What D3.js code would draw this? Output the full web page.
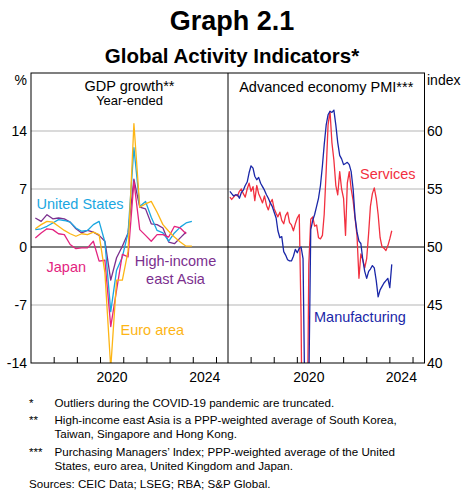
<!DOCTYPE html>
<html><head><meta charset="utf-8">
<script src="https://cdn.jsdelivr.net/npm/d3@7"></script>
<style>
body{margin:0;background:#fff}
text{font-family:Arial,"Liberation Sans",sans-serif;fill:#000}
</style>
</head><body>
<svg id="c" width="464" height="491"></svg>
<script>
// ---------- DATA ----------
const quarters = ["2017-Q1","2017-Q2","2017-Q3","2017-Q4","2018-Q1","2018-Q2","2018-Q3","2018-Q4",
  "2019-Q1","2019-Q2","2019-Q3","2019-Q4","2020-Q1","2020-Q2","2020-Q3","2020-Q4",
  "2021-Q1","2021-Q2","2021-Q3","2021-Q4","2022-Q1","2022-Q2","2022-Q3","2022-Q4",
  "2023-Q1","2023-Q2","2023-Q3","2023-Q4"];
const gdpUS    = [2.1,2.2,2.5,2.9,3.3,3.2,3.0,2.3,1.9,2.0,2.7,3.1,0.6,-7.8,-2.8,-1.2,1.7,12.0,4.9,5.5,3.6,2.0,1.7,0.7,1.7,2.4,2.9,3.1];
const gdpEuro  = [2.2,2.7,3.1,3.0,2.5,2.0,1.6,1.3,1.6,1.5,1.8,1.5,-3.1,-14.6,-4.0,-4.0,-0.5,14.9,4.8,5.2,5.5,4.2,2.7,1.9,1.2,0.6,0.1,0.1];
const gdpJapan = [1.1,1.7,2.2,2.1,1.6,1.5,0.3,-0.2,-0.1,-0.1,0.7,-1.7,-1.6,-9.6,-5.2,-0.9,-1.2,7.9,2.1,1.4,0.7,1.5,1.5,1.2,2.5,2.3,1.6];
const gdpHIEA  = [3.5,3.1,3.9,3.4,3.5,3.4,3.0,2.2,1.7,2.0,1.8,1.4,0.7,-4.0,-1.3,0.1,1.7,8.2,4.8,4.6,2.8,2.7,2.3,0.6,0.4,1.1,1.8];

const pmiStart = "2017-01", pmiEnd = "2024-01";
const pmiManufacturing = [
  54.8,54.6,54.4,54.5,54.5,54.2,54.7,54.9,55.3,55.6,56.4,57.0,
  56.8,56.1,55.8,56.0,55.5,55.2,54.9,54.5,54.2,53.8,53.5,53.0,
  52.5,51.4,50.8,50.9,49.6,49.3,48.9,48.8,48.8,49.2,49.8,49.5,
  49.9,50.0,49.0,36.0,34.0,38.0,51.5,52.3,52.8,53.5,54.2,55.3,
  57.0,58.8,60.5,61.4,61.7,61.6,61.8,60.5,59.0,57.9,57.6,57.1,
  57.2,57.3,57.1,56.5,55.0,52.6,51.3,50.5,50.3,48.9,47.9,47.3,
  47.9,48.1,48.4,48.2,47.1,45.7,46.3,46.6,46.9,47.1,47.3,46.5,48.5];
const pmiServices = [
  54.3,54.1,54.3,54.5,54.4,54.8,55.0,54.6,54.3,55.0,55.5,54.8,
  55.2,54.0,55.3,54.6,54.2,53.8,54.4,53.6,53.2,53.8,54.1,53.3,
  52.9,52.6,53.0,52.3,52.0,52.7,53.0,52.1,51.9,51.4,52.0,52.5,
  52.8,44.0,25.0,15.0,30.0,48.5,52.4,52.6,51.8,51.9,50.8,50.7,
  51.0,52.8,56.5,60.5,61.7,59.0,57.5,55.3,54.5,56.5,55.0,54.2,
  51.0,55.5,56.5,55.0,54.0,52.5,51.0,47.3,49.4,48.9,48.2,49.0,
  51.2,53.5,54.6,55.1,54.2,52.8,50.8,50.0,49.9,49.7,50.1,50.7,51.4];

const leftTicks = [14,7,0,-7,-14];
const rightTicks = [60,55,50,45,40];
const yearTicks = [2018,2019,2020,2021,2022,2023,2024,2025];
const yearLabels = [2020,2024];

const footnotes = [
  ["*","Outliers during the COVID-19 pandemic are truncated."],
  ["**","High-income east Asia is a PPP-weighted average of South Korea,"],
  ["","Taiwan, Singapore and Hong Kong."],
  ["***","Purchasing Managers’ Index; PPP-weighted average of the United"],
  ["","States, euro area, United Kingdom and Japan."]
];

// ---------- LAYOUT ----------
const svg = d3.select("#c");
const topY = 73, bottomY = 363, L0 = 31, MID = 228, R1 = 424.5;
const tDomain = [new Date(2017,0,1), new Date(2025,6,1)];
const xL = d3.scaleTime().domain(tDomain).range([L0, MID]);
const xR = d3.scaleTime().domain(tDomain).range([MID, R1]);
const yL = d3.scaleLinear().domain([-14,21]).range([bottomY, topY]);
const yR = d3.scaleLinear().domain([40,65]).range([bottomY, topY]);

const qDate = s => { const y=+s.slice(0,4), q=+s.slice(6); return new Date(y, 3*(q-1)+2, 10); };
const pmiParse = d3.timeParse("%Y-%m");
const months = d3.timeMonth.range(pmiParse(pmiStart), d3.timeMonth.offset(pmiParse(pmiEnd),1));
const mDate = d => new Date(d.getFullYear(), d.getMonth()+1, 0);

// titles
svg.append("text").attr("x",232).attr("y",30).attr("text-anchor","middle")
  .style("font-weight","bold").style("font-size","27px").text("Graph 2.1");
svg.append("text").attr("x",232).attr("y",63).attr("text-anchor","middle")
  .style("font-weight","bold").style("font-size","20.5px").text("Global Activity Indicators*");

// clip paths
const defs = svg.append("defs");
defs.append("clipPath").attr("id","clipL").append("rect").attr("x",L0).attr("y",topY).attr("width",MID-L0).attr("height",bottomY-topY);
defs.append("clipPath").attr("id","clipR").append("rect").attr("x",MID).attr("y",topY).attr("width",R1-MID).attr("height",bottomY-topY);

// grid
const gridCol = "#b5b5b5";
svg.append("g").selectAll("line").data(leftTicks.filter(v=>v!==-14)).join("line")
  .attr("x1",L0).attr("x2",MID).attr("y1",d=>yL(d)).attr("y2",d=>yL(d))
  .attr("stroke",d=>d===0?"#000":gridCol).attr("stroke-width",1);
svg.append("g").selectAll("line").data(rightTicks.filter(v=>v!==40)).join("line")
  .attr("x1",MID).attr("x2",R1).attr("y1",d=>yR(d)).attr("y2",d=>yR(d))
  .attr("stroke",d=>d===50?"#000":gridCol).attr("stroke-width",1);

// x ticks
[xL,xR].forEach(x=>{
  svg.append("g").selectAll("line").data(yearTicks).join("line")
    .attr("x1",d=>x(new Date(d,0,1))).attr("x2",d=>x(new Date(d,0,1)))
    .attr("y1",bottomY).attr("y2",bottomY-6).attr("stroke","#000");
  svg.append("g").selectAll("text").data(yearLabels).join("text")
    .attr("x",d=>x(new Date(d,6,1))).attr("y",bottomY+19).attr("text-anchor","middle")
    .style("font-size","14px").text(d=>d);
});

// y labels
svg.append("g").selectAll("text").data(leftTicks).join("text")
  .attr("x",27).attr("y",d=>yL(d)).attr("dy","0.36em").attr("text-anchor","end")
  .style("font-size","14px").text(d=>d);
svg.append("g").selectAll("text").data(rightTicks).join("text")
  .attr("x",427).attr("y",d=>yR(d)).attr("dy","0.36em").attr("text-anchor","start")
  .style("font-size","14px").text(d=>d);
svg.append("text").attr("x",27).attr("y",80).attr("dy","0.36em").attr("text-anchor","end").style("font-size","14px").text("%");
svg.append("text").attr("x",427).attr("y",80).attr("dy","0.36em").attr("text-anchor","start").style("font-size","14px").text("index");

// panel titles
svg.append("text").attr("x",(L0+MID)/2).attr("y",86).attr("dy","0.36em").attr("text-anchor","middle").style("font-size","14.5px").text("GDP growth**");
svg.append("text").attr("x",(L0+MID)/2).attr("y",100).attr("dy","0.36em").attr("text-anchor","middle").style("font-size","13px").text("Year-ended");
svg.append("text").attr("x",(MID+R1)/2).attr("y",87).attr("dy","0.36em").attr("text-anchor","middle").style("font-size","14.5px").text("Advanced economy PMI***");

// GDP lines
const gdpSeries = [
  {name:"HIEA", vals:gdpHIEA, color:"#7B2F8E"},
  {name:"US", vals:gdpUS, color:"#1AA7E1"},
  {name:"Japan", vals:gdpJapan, color:"#E3247F"},
  {name:"Euro", vals:gdpEuro, color:"#FDB515"}
];
const lineL = d3.line().x(d=>xL(d[0])).y(d=>yL(d[1]));
const gL = svg.append("g").attr("clip-path","url(#clipL)");
gdpSeries.forEach(s=>{
  gL.append("path").datum(s.vals.map((v,i)=>[qDate(quarters[i]),v]))
    .attr("d",lineL).attr("fill","none").attr("stroke",s.color).attr("stroke-width",1.3).attr("stroke-linejoin","round");
});

// PMI lines
const lineR = d3.line().x(d=>xR(d[0])).y(d=>yR(d[1]));
const gR = svg.append("g").attr("clip-path","url(#clipR)");
[{vals:pmiServices,color:"#F2303F"},{vals:pmiManufacturing,color:"#1A27A8"}].forEach(s=>{
  gR.append("path").datum(s.vals.map((v,i)=>[mDate(months[i]),v]))
    .attr("d",lineR).attr("fill","none").attr("stroke",s.color).attr("stroke-width",1.3).attr("stroke-linejoin","round");
});

// frame
svg.append("rect").attr("x",L0).attr("y",topY).attr("width",R1-L0).attr("height",bottomY-topY)
  .attr("fill","none").attr("stroke","#000").attr("stroke-width",1);
svg.append("line").attr("x1",MID).attr("x2",MID).attr("y1",topY).attr("y2",bottomY).attr("stroke","#000");

// series labels
const lab = (x,y,t,c,anchor="start") => svg.append("text").attr("x",x).attr("y",y).attr("dy","0.36em")
  .attr("text-anchor",anchor).style("font-size","14.5px").style("fill",c).text(t);
lab(36.5,204,"United States","#1AA7E1");
lab(46.5,267,"Japan","#E3247F");
lab(175.5,261,"High-income","#7B2F8E","middle");
lab(175.5,279,"east Asia","#7B2F8E","middle");
lab(120.5,330,"Euro area","#FDB515");
lab(360,174,"Services","#F2303F");
lab(314,317,"Manufacturing","#1A27A8");

// footnotes
const fy = [403,420,433.5,452,466];
footnotes.forEach((f,i)=>{
  svg.append("text").attr("x",29).attr("y",fy[i]).attr("dy","0.36em").style("font-size","11.6px").text(f[0]);
  svg.append("text").attr("x",54.5).attr("y",fy[i]).attr("dy","0.36em").style("font-size","11.6px").text(f[1]);
});
svg.append("text").attr("x",29).attr("y",484).attr("dy","0.36em").style("font-size","11.6px").text("Sources: CEIC Data; LSEG; RBA; S&P Global.");
</script>
</body></html>
